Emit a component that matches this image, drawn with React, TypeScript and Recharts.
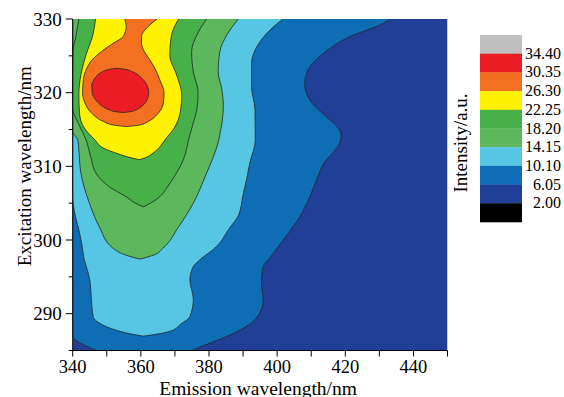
import React from 'react';
import { ComposedChart, Area, XAxis, YAxis } from 'recharts';

type Band = [number, number, number][]; // [excitation, emission low, emission high]

const SERIF = '"Liberation Serif", "Times New Roman", serif';

const emissionTicks = [340, 350, 360, 370, 380, 390, 400, 410, 420, 430, 440, 450];
const excitationTicks = [285, 290, 295, 300, 305, 310, 315, 320, 325, 330];

const legendLabels = ['34.40', '30.35', '26.30', '22.25', '18.20', '14.15', '10.10', '6.05', '2.00'];
const legendColors = ['#C0C0C0', '#EC1C24', '#F37021', '#FFF200', '#48B049', '#5DB85D', '#56C6E4', '#0F6DB6', '#223F98', '#000000'];

const level200: Band = [
  [330, 340, 450],
  [285, 340, 450],
];

const level605: Band = [
  [330, 340, 433.1],
  [329.4, 340, 431.1],
  [327.6, 340, 421.3],
  [325.3, 340, 413.5],
  [323.1, 340, 409.1],
  [321.3, 340, 408.1],
  [319.0, 340, 409.6],
  [316.7, 340, 414.5],
  [315.4, 340, 417.6],
  [314.2, 340, 418.8],
  [313.0, 340, 418.2],
  [311.8, 340, 416.3],
  [310.9, 340, 414.5],
  [308.2, 340, 411.6],
  [305.9, 340, 409.6],
  [303.2, 340, 406.7],
  [300.0, 340, 401.8],
  [297.3, 340, 397.4],
  [296.4, 340, 395.9],
  [294.1, 340, 395.4],
  [291.9, 340, 395.9],
  [290.1, 340, 394.9],
  [288.7, 340, 392.3],
  [286.9, 340, 385.2],
  [285.8, 343.1, 379.2],
  [285.0, 347.0, 374.9],
];

const level1010: Band = [
  [330, 340, 401.7],
  [328.5, 340, 397.9],
  [326.2, 340, 394.0],
  [324.0, 340, 392.5],
  [320.8, 340, 392.5],
  [317.7, 340, 393.5],
  [313.6, 340, 393.6],
  [310.5, 340, 392.0],
  [308.2, 340, 391.0],
  [305.9, 340, 389.9],
  [303.4, 340.7, 388.7],
  [301.4, 341.8, 385.7],
  [299.1, 342.8, 382.2],
  [297.3, 343.4, 377.3],
  [296.4, 344.0, 375.4],
  [294.6, 345.0, 374.4],
  [291.9, 345.5, 375.4],
  [289.6, 346.0, 374.4],
  [288.6, 348.3, 371.8],
  [287.6, 353.9, 368.5],
  [287.2, 357.5, 364.5],
  [286.95, 360.7, 360.7],
];

const level1415: Band = [
  [330, 340, 388.6],
  [327.8, 340, 385.2],
  [325.6, 340, 383.2],
  [322.8, 340, 382.7],
  [320.6, 340, 383.7],
  [318.3, 340, 384.2],
  [315.6, 340, 383.7],
  [314.7, 340, 383.3],
  [313.6, 341.5, 382.9],
  [312.2, 341.8, 382.0],
  [309.1, 342.4, 379.3],
  [305.0, 344.9, 375.4],
  [301.8, 347.8, 371.1],
  [298.9, 351.8, 366.5],
  [298.0, 355.3, 364.0],
  [297.4, 359.7, 359.7],
];

const level1820: Band = [
  [330, 341.8, 379.3],
  [327.8, 341.0, 376.4],
  [325.6, 340.1, 374.9],
  [322.8, 340, 375.4],
  [320.1, 340, 376.8],
  [317.9, 340, 376.5],
  [315.6, 341.9, 375.2],
  [313.6, 343.9, 374.0],
  [311.3, 345.3, 372.8],
  [309.1, 346.8, 370.5],
  [307.2, 350.8, 367.8],
  [305.9, 355.6, 365.6],
  [305.1, 358.0, 363.2],
  [304.5, 360.7, 360.7],
];

const level2225: Band = [
  [330, 346.7, 371.1],
  [327.8, 345.9, 369.0],
  [325.1, 343.9, 368.5],
  [322.4, 342.4, 370.5],
  [319.7, 341.8, 372.0],
  [317.2, 342.0, 371.5],
  [315.2, 343.4, 369.8],
  [313.6, 346.5, 367.1],
  [312.5, 348.9, 365.3],
  [311.7, 353.3, 363.3],
  [311.2, 356.8, 361.5],
  [310.9, 359.5, 359.5],
];

const level2630: Band = [
  [330, 355.3, 364.8],
  [329, 355.7, 362.2],
  [327.6, 354.8, 360.2],
  [326.7, 351.9, 360.2],
  [325.6, 348.5, 361.0],
  [324.4, 345.6, 362.7],
  [323.3, 344.1, 364.1],
  [321.7, 343.1, 365.6],
  [320, 342.9, 366.8],
  [318.6, 343.6, 366.6],
  [317.2, 345.6, 365.1],
  [316.1, 349.0, 362.2],
  [315.6, 352.0, 359.6],
  [315.4, 355.8, 355.8],
];

const level3035: Band = [
  [323.3, 353.0, 353.0],
  [323.15, 350.5, 355.6],
  [322.8, 348.6, 357.7],
  [322.0, 346.6, 360.2],
  [321.0, 345.6, 361.8],
  [320.0, 345.7, 362.3],
  [319.0, 346.8, 361.8],
  [318.2, 348.6, 360.4],
  [317.6, 351.1, 358.3],
  [317.45, 352.2, 357.3],
  [317.3, 354.8, 354.8],
];

const bands = [
  { key: 'l200', rows: level200, color: legendColors[8], line: false },
  { key: 'l605', rows: level605, color: legendColors[7], line: true },
  { key: 'l1010', rows: level1010, color: legendColors[6], line: true },
  { key: 'l1415', rows: level1415, color: legendColors[5], line: true },
  { key: 'l1820', rows: level1820, color: legendColors[4], line: true },
  { key: 'l2225', rows: level2225, color: legendColors[3], line: true },
  { key: 'l2630', rows: level2630, color: legendColors[2], line: true },
  { key: 'l3035', rows: level3035, color: legendColors[1], line: true },
];

const toRows = (b: Band) => b.map(([y, lo, hi]) => ({ y, range: [lo, hi] }));

const fmtX = (v: number) => (v % 20 === 0 ? String(v) : '');

const YTick = (props: any) => {
  const { x, y, payload } = props;
  const v = payload.value as number;
  const major = v % 10 === 0;
  const axisX = x + 4 + 7;
  return (
    <g>
      <line x1={axisX - (major ? 7 : 4)} x2={axisX} y1={y} y2={y} stroke="#000" strokeWidth={1} />
      {major && (
        <text x={x} y={y} dy="0.35em" textAnchor="end" fill="#000" fontSize={19} fontFamily={SERIF}>
          {v}
        </text>
      )}
    </g>
  );
};

const XTitle = (props: any) => {
  const vb = props.viewBox ?? { x: 72.7, y: 350.5, width: 374.8, height: 40 };
  return (
    <text x={vb.x + vb.width / 2 - 2} y={vb.y + vb.height + 4} textAnchor="middle" fill="#000" fontSize={19.5} fontFamily={SERIF}>
      Emission wavelength/nm
    </text>
  );
};

const YTitle = (props: any) => {
  const vb = props.viewBox ?? { x: 12.7, y: 19, width: 60, height: 331.5 };
  const cx = vb.x + 18.5;
  const cy = vb.y + vb.height / 2 - 18.5;
  return (
    <text x={cx} y={cy} transform={`rotate(-90 ${cx} ${cy})`} textAnchor="middle" fill="#000" fontSize={19} fontFamily={SERIF}>
      Excitation wavelength/nm
    </text>
  );
};

const ColorBar = () => {
  const left = 480;
  const top = 35;
  const w = 42;
  const h = 18.7;
  return (
    <svg width={564} height={397} style={{ position: 'absolute', left: 0, top: 0, pointerEvents: 'none' }}>
      {legendColors.map((c, i) => (
        <rect key={c} x={left} y={top + i * h} width={w} height={h + 0.3} fill={c} />
      ))}
      {legendLabels.map((t, i) => (
        <text key={t} x={561} y={top + (i + 1) * h + 5} textAnchor="end" fill="#000" fontSize={16} fontFamily={SERIF}>
          {t}
        </text>
      ))}
      <text x={467} y={143} transform="rotate(-90 467 143)" textAnchor="middle" fill="#000" fontSize={19} fontFamily={SERIF}>
        Intensity/a.u.
      </text>
    </svg>
  );
};

export default function App() {
  return (
    <div style={{ position: 'absolute', left: 0, top: 0, width: 564, height: 397, background: '#fff' }}>
      <ComposedChart
        width={564}
        height={397}
        layout="vertical"
        margin={{ top: 19, right: 116.5, bottom: 6.5, left: 12.7 }}
      >
        {bands.map((b) => (
          <Area
            key={b.key}
            data={toRows(b.rows)}
            dataKey="range"
            type="monotone"
            fill={b.color}
            fillOpacity={1}
            stroke={b.line ? '#1d2626' : 'none'}
            strokeWidth={0.8}
            dot={false}
            activeDot={false}
            isAnimationActive={false}
          />
        ))}
        <XAxis
          type="number"
          domain={[340, 450]}
          ticks={emissionTicks}
          interval={0}
          allowDataOverflow
          tickFormatter={fmtX}
          tickSize={6}
          tickMargin={3.5}
          height={40}
          axisLine={{ stroke: '#000' }}
          tickLine={{ stroke: '#000' }}
          tick={{ fill: '#000', fontSize: 18.5, fontFamily: SERIF }}
          label={<XTitle />}
        />
        <YAxis
          type="number"
          dataKey="y"
          domain={[285, 330]}
          ticks={excitationTicks}
          interval={0}
          allowDataOverflow
          reversed
          width={60}
          tickSize={7}
          tickMargin={4}
          tickLine={false}
          axisLine={{ stroke: '#000' }}
          tick={<YTick />}
          label={<YTitle />}
        />
      </ComposedChart>
      <ColorBar />
    </div>
  );
}
